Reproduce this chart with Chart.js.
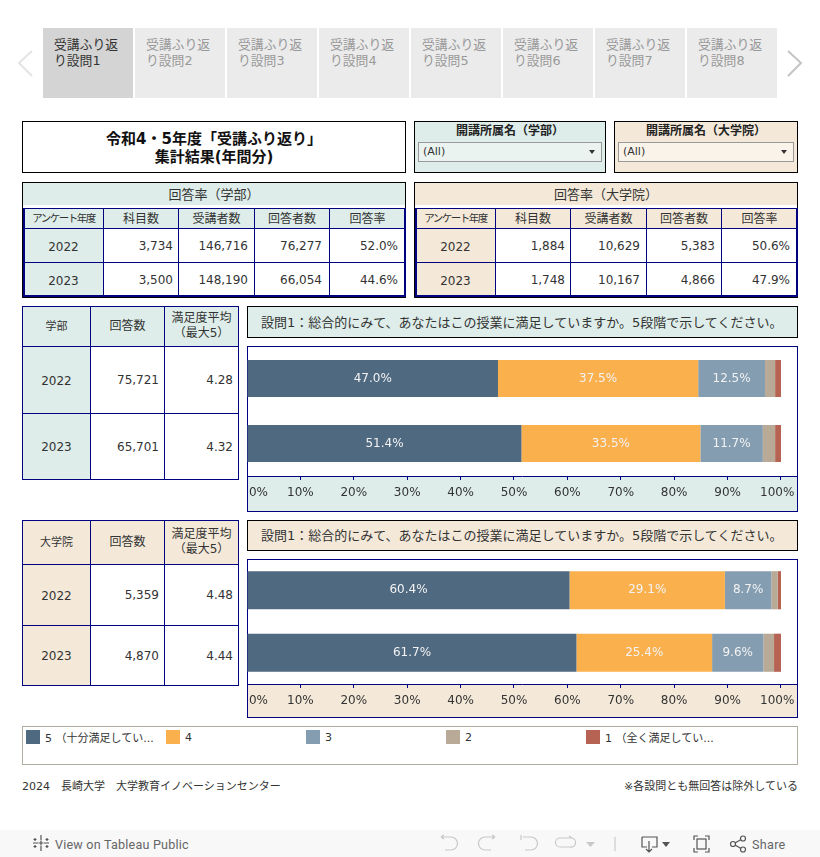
<!DOCTYPE html>
<html>

<head>
  <meta charset="utf-8">
  <script src="https://cdn.jsdelivr.net/npm/chart.js@4"></script>
  <style>
    html, body { margin: 0; padding: 0; background: #fff; }
    body { width: 820px; height: 857px; position: relative; overflow: hidden; font-family: "DejaVu Sans", "Noto Sans CJK JP", sans-serif; color: #333; }
    .abs { position: absolute; box-sizing: border-box; }
    .cell { display: flex; align-items: center; white-space: nowrap; }
    .wrap { position: absolute; }
  </style>
</head>

<body>
  <div id="page"></div>
  <svg class="abs" style="left:0;top:0" width="820" height="857" id="icons"></svg>
  <div class="wrap" style="left:247px;top:346px;width:550px;height:165px"><canvas id="chartUndergrad"></canvas></div>
  <div class="wrap" style="left:247px;top:559px;width:550px;height:158px"><canvas id="chartGraduate"></canvas></div>
  <script type="text/javascript">
    var mint = '#deede9';
    var beige = '#f4e9d9';
    var navy = '#000080';
    var font = '"DejaVu Sans", "Noto Sans CJK JP", sans-serif';

    // data
    var tabLabels = ['受講ふり返り設問1', '受講ふり返り設問2', '受講ふり返り設問3', '受講ふり返り設問4', '受講ふり返り設問5', '受講ふり返り設問6', '受講ふり返り設問7', '受講ふり返り設問8'];
    var rateHeaders = ['アンケート年度', '科目数', '受講者数', '回答者数', '回答率'];
    var rateUndergrad = [['2022', '3,734', '146,716', '76,277', '52.0%'], ['2023', '3,500', '148,190', '66,054', '44.6%']];
    var rateGraduate = [['2022', '1,884', '10,629', '5,383', '50.6%'], ['2023', '1,748', '10,167', '4,866', '47.9%']];
    var years = ['2022', '2023'];
    var summaryUndergrad = [['2022', '75,721', '4.28'], ['2023', '65,701', '4.32']];
    var summaryGraduate = [['2022', '5,359', '4.48'], ['2023', '4,870', '4.44']];
    // \uFF08 \uFF09 \uFF1A \u3000 = full-width brackets, colon, space
    var seriesNames = ['5 \uFF08十分満足してい...', '4', '3', '2', '1 \uFF08全く満足してい...'];
    var seriesColors = ['#4f6980', '#fbb04e', '#849db1', '#b9aa97', '#b66353'];
    var undergrad5 = [47.0, 51.4];
    var undergrad4 = [37.5, 33.5];
    var undergrad3 = [12.5, 11.7];
    var undergrad2 = [1.9, 2.3];
    var undergrad1 = [1.1, 1.1];
    var graduate5 = [60.4, 61.7];
    var graduate4 = [29.1, 25.4];
    var graduate3 = [8.7, 9.6];
    var graduate2 = [1.2, 2.0];
    var graduate1 = [0.6, 1.3];
    var questionText = '設問1\uFF1A総合的にみて、あなたはこの授業に満足していますか。5段階で示してください。';

    var page = document.getElementById('page');

    function box(x, y, w, h, style, text) {
      var d = document.createElement('div');
      d.className = 'abs cell';
      d.style.cssText = 'left:' + x + 'px;top:' + y + 'px;width:' + w + 'px;height:' + h + 'px;' + (style || '');
      if (text !== undefined) d.textContent = text;
      page.appendChild(d);
      return d;
    }

    // tabs
    tabLabels.forEach(function(t, i) {
      var d = box(43 + i * 92, 28, 90, 70, 'background:' + (i == 0 ? '#d4d4d4' : '#ebebeb') + ';color:' + (i == 0 ? '#333' : '#999') + ';font-size:12.8px;line-height:16px;padding:9px 10px 0 11px;white-space:normal;align-items:flex-start;word-break:break-all');
      d.textContent = t;
    });

    // title + filters
    box(22, 121, 384, 52, 'border:1px solid #000;justify-content:center;text-align:center;font-weight:bold;font-size:15px;line-height:18px;color:#111;white-space:pre;padding-top:1px', '令和4・5年度「受講ふり返り」\n集計結果(年間分)');
    function filter(x, w, bg, light, title) {
      box(x, 121, w, 52, 'border:1px solid #000;background:' + bg);
      box(x, 122, w, 15, 'justify-content:center;font-weight:bold;font-size:12px;color:#222', title);
      box(x + 4, 142, w - 8, 20, 'border:1px solid #999;background:' + light + ';font-size:11px;padding:0 0 2px 4px', '(All)');
    }
    filter(414, 192, mint, '#ebf3f1', '開講所属名\uFF08学部\uFF09');
    filter(614, 184, beige, '#f9f3ea', '開講所属名\uFF08大学院\uFF09');

    // response-rate tables
    function rateTable(x, w, xs, bg, title, rows, pads) {
      box(x, 182, w, 116, 'border:1px solid #000;');
      box(x + 1, 183, w - 2, 22, 'background:' + bg + ';justify-content:center;font-size:13px;padding-bottom:1px', title);
      var ys = [208, 228, 262, 296];
      box(xs[0], 208, xs[5] - xs[0] + 1, 20, 'background:' + bg);
      box(xs[0], 228, xs[1] - xs[0], 68, 'background:' + bg);
      rateHeaders.forEach(function(h, c) {
        box(xs[c], 208, xs[c + 1] - xs[c] + 1, 21, 'border:1px solid ' + navy + ';justify-content:center;padding-bottom:2px;font-size:' + (c == 0 ? 10.5 : 12) + 'px;' + (c == 0 ? 'letter-spacing:-1.5px' : ''), h);
      });
      rows.forEach(function(r, ri) {
        r.forEach(function(v, c) {
          box(xs[c], ys[ri + 1], xs[c + 1] - xs[c] + 1, ys[ri + 2] - ys[ri + 1] + 1, 'border:1px solid ' + navy + ';font-size:12px;' + (c == 0 ? 'justify-content:center;padding-top:2px' : 'justify-content:flex-end;padding-right:' + pads[c - 1] + 'px'), v);
        });
      });
      box(xs[0], 208, xs[5] - xs[0] + 1, 89, 'border:2px solid ' + navy + ';border-top-width:1px');
    }
    rateTable(22, 384, [23, 103, 178, 254, 329, 405], mint, '回答率\uFF08学部\uFF09', rateUndergrad, [5, 6, 7, 7]);
    rateTable(414, 384, [415, 495, 570, 646, 721, 797], beige, '回答率\uFF08大学院\uFF09', rateGraduate, [5, 6, 6, 7]);

    // summary tables
    function summaryTable(ys, bg, first, rows) {
      var xs = [22, 90, 164, 238];
      box(22, ys[0], 217, ys[1] - ys[0], 'background:' + bg);
      box(22, ys[1], 68, ys[3] - ys[1], 'background:' + bg);
      [first, '回答数', '満足度平均\n\uFF08最大5\uFF09'].forEach(function(h, c) {
        box(xs[c], ys[0], xs[c + 1] - xs[c] + 1, ys[1] - ys[0] + 1, 'border:1px solid ' + navy + ';justify-content:center;text-align:center;white-space:pre;line-height:15px;padding-bottom:1px;font-size:' + (c == 0 ? 11 : 12) + 'px', h);
      });
      rows.forEach(function(r, ri) {
        r.forEach(function(v, c) {
          box(xs[c], ys[ri + 1], xs[c + 1] - xs[c] + 1, ys[ri + 2] - ys[ri + 1] + 1, 'border:1px solid ' + navy + ';font-size:12px;' + (c == 0 ? 'justify-content:center;padding-top:1px' : 'justify-content:flex-end;padding-right:5px'), v);
        });
      });
    }
    summaryTable([306, 346, 413, 479], mint, '学部', summaryUndergrad);
    summaryTable([520, 564, 625, 685], beige, '大学院', summaryGraduate);

    // question boxes + chart frames
    box(247, 306, 551, 32, 'border:1px solid #000;background:' + mint + ';font-size:13px;padding:0 0 2px 13px', questionText);
    box(247, 520, 551, 31, 'border:1px solid #000;background:' + beige + ';font-size:13px;padding:0 0 2px 13px', questionText);
    box(247, 346, 551, 166, 'border:1px solid ' + navy + ';background:linear-gradient(#fff 130px,' + mint + ' 130px)');
    box(247, 559, 551, 159, 'border:1px solid ' + navy + ';background:linear-gradient(#fff 124px,' + beige + ' 124px)');

    // legend
    box(22, 726, 776, 39, 'border:1px solid #b0ada0');
    seriesNames.forEach(function(n, i) {
      box(26 + i * 140, 730, 14, 14, 'background:' + seriesColors[i]);
      box(45 + i * 140, 730, 118, 14, 'font-size:11px', n);
    });

    // footer
    box(22, 777, 400, 16, 'font-size:11px', '2024\u3000長崎大学\u3000大学教育イノベーションセンター');
    box(498, 777, 300, 16, 'font-size:11px;justify-content:flex-end', '※各設問とも無回答は除外している');
    box(0, 830, 820, 27, 'background:#f8f8f8');
    box(55, 836, 160, 16, 'font-family:Roboto,sans-serif;font-size:12.6px;color:#666;letter-spacing:.2px', 'View on Tableau Public');
    box(752, 836, 50, 16, 'font-family:Roboto,sans-serif;font-size:12.6px;color:#666;letter-spacing:.3px', 'Share');

    // arrows and toolbar icons
    document.getElementById('icons').innerHTML =
      '<g fill="none" stroke-width="2"><polyline points="32,51 19,63 32,76" stroke="#e4e4e4"/><polyline points="788,51 801,63 788,76" stroke="#c4c4c4"/></g>' +
      '<path d="M589 150h6l-3 4z M781 150h6l-3 4z" fill="#333"/>' +
      '<g fill="none" stroke="#c8c8c8" stroke-width="1.2">' +
      '<path d="M441 837h10a6.5 6.5 0 0 1 0 13h-6 M441 837l3-2 M441 837l3 2"/>' +
      '<path d="M495 837h-10a6.5 6.5 0 0 0 0 13h6 M495 837l-3-2 M495 837l-3 2"/>' +
      '<path d="M521 835v5 M523 837h8a6.5 6.5 0 0 1 0 13h-6"/>' +
      '<path d="M572 838h-12a4 4 0 0 0 0 9h10a4 4 0 0 0 2-9 M572 838l-3-2"/>' +
      '<path d="M615 837v14" stroke="#ccc"/></g>' +
      '<path d="M586 842h9l-4.500 5z" fill="#c8c8c8"/>' +
      '<g fill="none" stroke="#555" stroke-width="1.2"><path d="M642 837h15v10h-5 M642 837v10h5 M649 841v11 M646 849l3 3 3-3"/>' +
      '<path d="M694 840v-4h4 M705 836h4v4 M709 848v4h-4 M698 852h-4v-4"/><rect x="697" y="839" width="9" height="10"/>' +
      '<circle cx="733" cy="844" r="2.500"/><circle cx="743" cy="838.500" r="2.500"/><circle cx="743" cy="849.500" r="2.500"/><path d="M735 843l6-3.500 M735 845l6 3.500"/></g>' +
      '<path d="M662 842h8l-4 5z" fill="#555"/>' +
      '<g stroke="#555" stroke-width="1.2"><path d="M41 835v5 M41 846v5 M33 843h5 M44 843h5 M41 840.500v5 M38.500 843h5 M35 838v3 M33.500 839.500h3 M47 838v3 M45.500 839.500h3 M35 845v3 M33.500 846.500h3 M47 845v3 M45.500 846.500h3"/></g>';

    //chart
    var barLabels = {
      id: 'barLabels',
      afterDatasetsDraw: function(chart) {
        var ctx = chart.ctx;
        ctx.save();
        ctx.font = '12px ' + font;
        ctx.fillStyle = '#f2f2f2';
        ctx.textAlign = 'center';
        ctx.textBaseline = 'middle';
        chart.data.datasets.forEach(function(ds, i) {
          chart.getDatasetMeta(i).data.forEach(function(bar, j) {
            if (ds.data[j] < 5) return;
            var p = bar.getCenterPoint();
            ctx.fillText(ds.data[j].toFixed(1) + '%', p.x, p.y);
          });
        });
        ctx.restore();
      }
    };

    function stacked(id, series, barPct, axisHeight) {
      return new Chart(document.getElementById(id), {
        type: 'bar',
        plugins: [barLabels],
        data: {
          labels: years,
          datasets: series.map(function(s, i) {
            return { label: seriesNames[i], data: s, backgroundColor: seriesColors[i], categoryPercentage: 1, barPercentage: barPct };
          })
        },
        options: {
          indexAxis: 'y',
          responsive: true,
          maintainAspectRatio: false,
          animation: false,
          layout: { padding: 0 },
          plugins: { legend: { display: false }, tooltip: { enabled: false } },
          scales: {
            y: { stacked: true, display: false },
            x: {
              stacked: true,
              min: 0,
              max: 103,
              afterFit: function(s) { s.height = axisHeight; s.paddingLeft = 0; s.paddingRight = 0; },
              border: { color: navy, width: 1 },
              grid: { drawOnChartArea: false, color: navy, tickLength: 4 },
              ticks: {
                stepSize: 10,
                includeBounds: false,
                autoSkip: false,
                maxRotation: 0,
                padding: 6,
                color: '#333',
                font: { family: font, size: 12 },
                callback: function(v) {
                  // first and last label sit inside the frame, as in the original
                  if (v == 0) return '\u00a0\u00a0\u00a0\u00a0\u00a0\u00a00%';
                  if (v == 100) return '100%\u00a0\u00a0';
                  return v + '%';
                }
              }
            }
          }
        }
      });
    }
    stacked('chartUndergrad', [undergrad5, undergrad4, undergrad3, undergrad2, undergrad1], 0.57, 35);
    stacked('chartGraduate', [graduate5, graduate4, graduate3, graduate2, graduate1], 0.61, 33);
  </script>
</body>

</html>
